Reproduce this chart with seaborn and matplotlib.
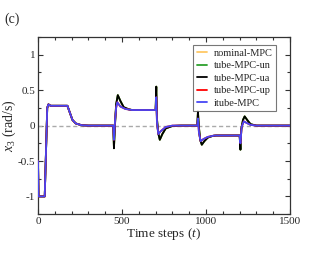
import numpy as np
import pandas as pd
import matplotlib
matplotlib.use("Agg")
import matplotlib.pyplot as plt
import seaborn as sns
from matplotlib.ticker import MultipleLocator, FuncFormatter

sns.set_style("ticks")
plt.rcParams['font.family'] = ['Liberation Serif', 'DejaVu Serif']
plt.rcParams['mathtext.fontset'] = 'custom'
plt.rcParams['mathtext.it'] = 'Liberation Serif:italic'
plt.rcParams['mathtext.rm'] = 'Liberation Serif'

series_names = ["nominal-MPC", "tube-MPC-un", "tube-MPC-ua", "tube-MPC-up", "itube-MPC"]
series_colors = ["#ffc864", "#2ca02c", "#000000", "#ff0000", "#4646f5"]

# key points (time step, x3)
t_large = [0, 3, 40, 55, 62, 75, 175, 190, 205, 225, 260, 300, 448, 452, 458, 465, 475, 490,
           510, 540, 560, 700, 704, 708, 715, 725, 740, 760, 800, 850, 948, 952, 957, 965,
           975, 990, 1010, 1040, 1060, 1200, 1205, 1210, 1220, 1230, 1245, 1265, 1300, 1500]
x3_large = [-0.5, -1.0, -1.0, 0.25, 0.30, 0.28, 0.28, 0.18, 0.08, 0.03, 0.005, 0.0, 0.0, -0.32,
            0.0, 0.30, 0.43, 0.35, 0.26, 0.23, 0.22, 0.22, 0.55, 0.10, -0.10, -0.20, -0.12,
            -0.04, -0.005, 0.0, 0.0, 0.20, 0.0, -0.20, -0.27, -0.22, -0.17, -0.145, -0.14,
            -0.14, -0.34, -0.05, 0.08, 0.13, 0.08, 0.02, 0.0, 0.0]

t_small = [0, 3, 40, 55, 62, 75, 175, 190, 205, 225, 260, 300, 448, 452, 458, 465, 472, 490,
           520, 560, 700, 704, 708, 716, 730, 760, 800, 948, 952, 958, 968, 985, 1010, 1050,
           1200, 1205, 1212, 1225, 1240, 1265, 1300, 1500]
x3_small = [-0.5, -1.0, -1.0, 0.25, 0.30, 0.28, 0.28, 0.18, 0.08, 0.03, 0.005, 0.0, 0.0, -0.20,
            0.05, 0.25, 0.33, 0.27, 0.235, 0.22, 0.22, 0.40, 0.05, -0.12, -0.08, -0.02, 0.0,
            0.0, 0.10, -0.10, -0.22, -0.19, -0.16, -0.14, -0.14, -0.25, -0.02, 0.06, 0.04,
            0.01, 0.0, 0.0]

series_data = {
    "nominal-MPC": (t_large, x3_large),
    "tube-MPC-un": (t_large, x3_large),
    "tube-MPC-ua": (t_large, x3_large),
    "tube-MPC-up": (t_small, x3_small),
    "itube-MPC": (t_small, x3_small),
}

fig = plt.figure(figsize=(3.29, 2.54), dpi=100)
ax = fig.add_axes([0.1155, 0.157, 0.766, 0.697])

ax.axhline(0, color="#aaaaaa", lw=1.0, ls=(0, (3, 2)), zorder=1)

for name, col in zip(series_names, series_colors):
    t, v = series_data[name]
    df = pd.DataFrame({"t": t, "x3": v})
    sns.lineplot(data=df, x="t", y="x3", ax=ax, color=col, lw=1.3, label=name,
                 estimator=None, sort=False, zorder=3)

ax.set_xlim(0, 1500)
ax.set_ylim(-1.25, 1.25)
ax.xaxis.set_major_locator(MultipleLocator(500))
ax.xaxis.set_minor_locator(MultipleLocator(100))
ax.yaxis.set_major_locator(MultipleLocator(0.5))
ax.yaxis.set_minor_locator(MultipleLocator(0.25))
ax.xaxis.set_major_formatter(FuncFormatter(lambda v, p: f"{int(v)}"))
ax.yaxis.set_major_formatter(FuncFormatter(lambda v, p: f"{v:g}"))
ax.tick_params(which="both", direction="in", top=True, right=True, labelsize=8,
               color="#333333", pad=2)
ax.tick_params(which="major", length=3.5, width=0.8)
ax.tick_params(which="minor", length=2, width=0.8)
for s in ax.spines.values():
    s.set_linewidth(0.9)
    s.set_color("#333333")

ax.set_xlabel(r"Time steps ($t$)", fontsize=9.5, labelpad=0)
ax.set_ylabel(r"$x_{3}$ (rad/s)", fontsize=10, labelpad=0)

leg = ax.legend(loc="upper right", fontsize=7.5, frameon=True, fancybox=False,
                edgecolor="#555555", handlelength=1.0, handletextpad=0.6,
                borderpad=0.35, labelspacing=0.3, borderaxespad=0,
                bbox_to_anchor=(0.944, 0.955))
leg.get_frame().set_linewidth(0.8)

fig.text(0.012, 0.91, "(c)", fontsize=10)

fig.savefig("out.png", dpi=100)
